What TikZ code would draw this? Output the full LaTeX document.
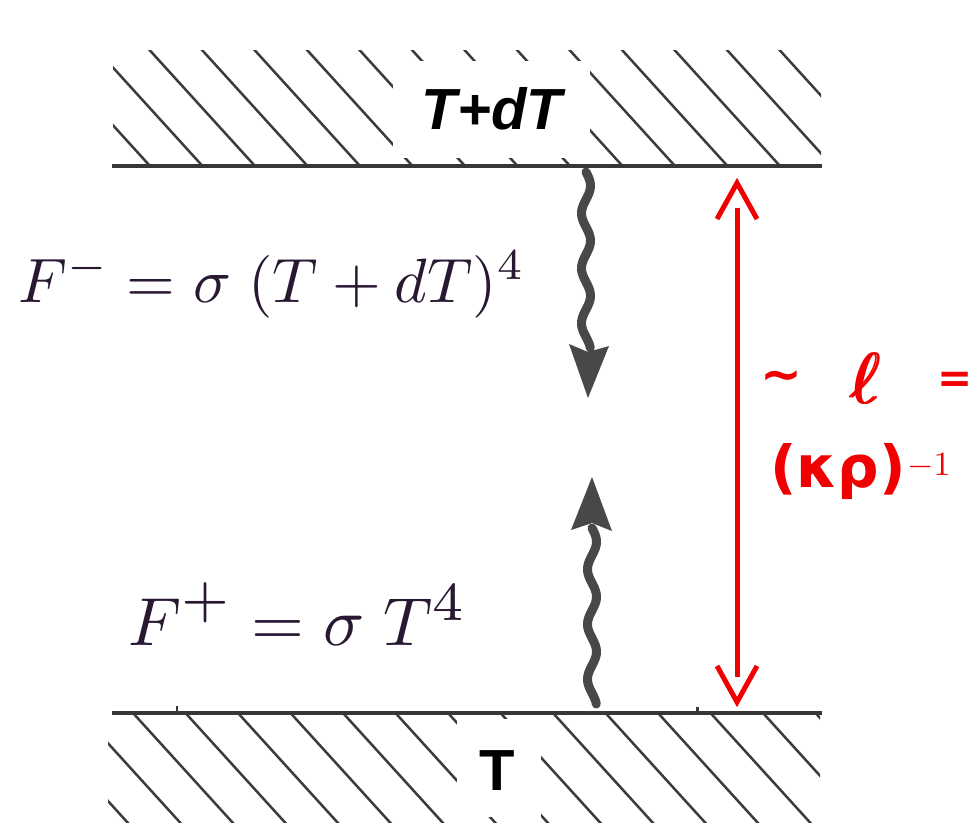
\documentclass[tikz,border=0pt]{standalone}
\usepackage{fontspec}
\usepackage{graphicx}
\newfontfamily\arialfont{Liberation Sans}
\newfontfamily\redfont{DejaVu Sans}
\definecolor{hatchgray}{RGB}{60,60,60}
\definecolor{plategray}{RGB}{55,55,55}
\definecolor{wavegray}{RGB}{72,72,72}
\definecolor{formcol}{RGB}{40,24,50}
\definecolor{myred}{RGB}{240,0,0}
\begin{document}
\begin{tikzpicture}[x=1pt,y=-1pt,
  hatch/.style={line width=2.5pt, draw=hatchgray},
  plate/.style={line width=4pt, draw=plategray},
  wave/.style={line width=9pt, draw=wavegray, line cap=round},
  wavehead/.style={fill=wavegray},
  redline/.style={line width=5pt, draw=myred},
  redtxt/.style={text=myred, inner sep=0pt},
  formula/.style={text=formcol, inner sep=0pt, anchor=base west}]
\useasboundingbox (0,0) rectangle (976,827);
\fill[white] (0,0) rectangle (976,827);

% top hatching
\begin{scope}
  \clip (113,50) rectangle (821,166);
  \foreach \i in {-2,...,15} \draw[hatch] ({150+52.5*\i},166) -- ++(-120,-132);
\end{scope}
% bottom hatching
\begin{scope}
  \clip (108,713) rectangle (820,822);
  \foreach \i in {-3,...,13} \draw[hatch] ({133+52.5*\i},713) -- ++(120,132);
\end{scope}

% white label boxes
\fill[white] (393,61) rectangle (590,158);
\fill[white] (457,719) rectangle (541,817);

% plates
\coordinate (tl) at (112,166);
\coordinate (tr) at (822,166);
\coordinate (bl) at (112,713);
\coordinate (br) at (822,713);
\draw[plate] (tl) -- (tr);
\draw[plate] (bl) -- (br);
\draw[plate, line width=2.5pt] (177,713) -- (177,706);
\draw[plate, line width=3pt] (697,713) -- (697,707);

% labels
\node[font=\arialfont\bfseries\itshape\fontsize{58}{60}\selectfont, inner sep=0pt] (ttop) at (492,109) {T+dT};
\node[font=\arialfont\bfseries\fontsize{58}{60}\selectfont, inner sep=0pt] (tbot) at (497,771) {T};

% formulas
\node[formula] (fminus) at (18,302) {\resizebox{507pt}{!}{$F^{-} = \sigma\;(T+dT)^{4}$}};
\node[formula] (fplus) at (128,645) {\scalebox{6.8}{$F^{\raisebox{0.5pt}{\scalebox{1.15}{$\scriptstyle +$}}} = \sigma\;T^{\scalebox{1.15}{$\scriptstyle 4$}}$}};

% wavy arrows
\draw[wave] plot[domain=172:348, samples=90, variable=\t] ({586+4.5*sin((\t-172)*6.545)}, \t);
\coordinate (dtip) at (588,398);
\fill[wavehead] (dtip) -- (569,344) -- (588,352) -- (609,346) -- cycle;
\draw[wave] plot[domain=528:704, samples=90, variable=\t] ({592+4.5*sin((\t-528)*6.545)}, \t);
\coordinate (utip) at (592,477);
\fill[wavehead] (utip) -- (612,531) -- (592,523) -- (571,530) -- cycle;

% red double arrow
\coordinate (rt) at (737,183);
\coordinate (rb) at (737,702);
\draw[redline] (737,208) -- (737,677);
\draw[redline, line join=miter] (717,219) -- (rt) -- (757,219);
\draw[redline, line join=miter] (717,666) -- (rb) -- (757,666);

% red label
\node[redtxt, font=\redfont\bfseries\fontsize{50}{52}\selectfont] (tilde) at (781,381) {\textasciitilde};
\node[redtxt] (ell) at (865,378) {\scalebox{7.2}{\rlap{$\ell$}\kern0.15pt\rlap{$\ell$}\kern0.15pt$\ell$}};
\node[redtxt, font=\redfont\bfseries\fontsize{42}{44}\selectfont] (eq) at (955,382) {=};
\node[redtxt, font=\redfont\bfseries\fontsize{58}{60}\selectfont] (kr) at (838,472) {(κρ)};
\node[redtxt] (m1) at (929,466) {\scalebox{3.4}{$-1$}};
\end{tikzpicture}
\end{document}
